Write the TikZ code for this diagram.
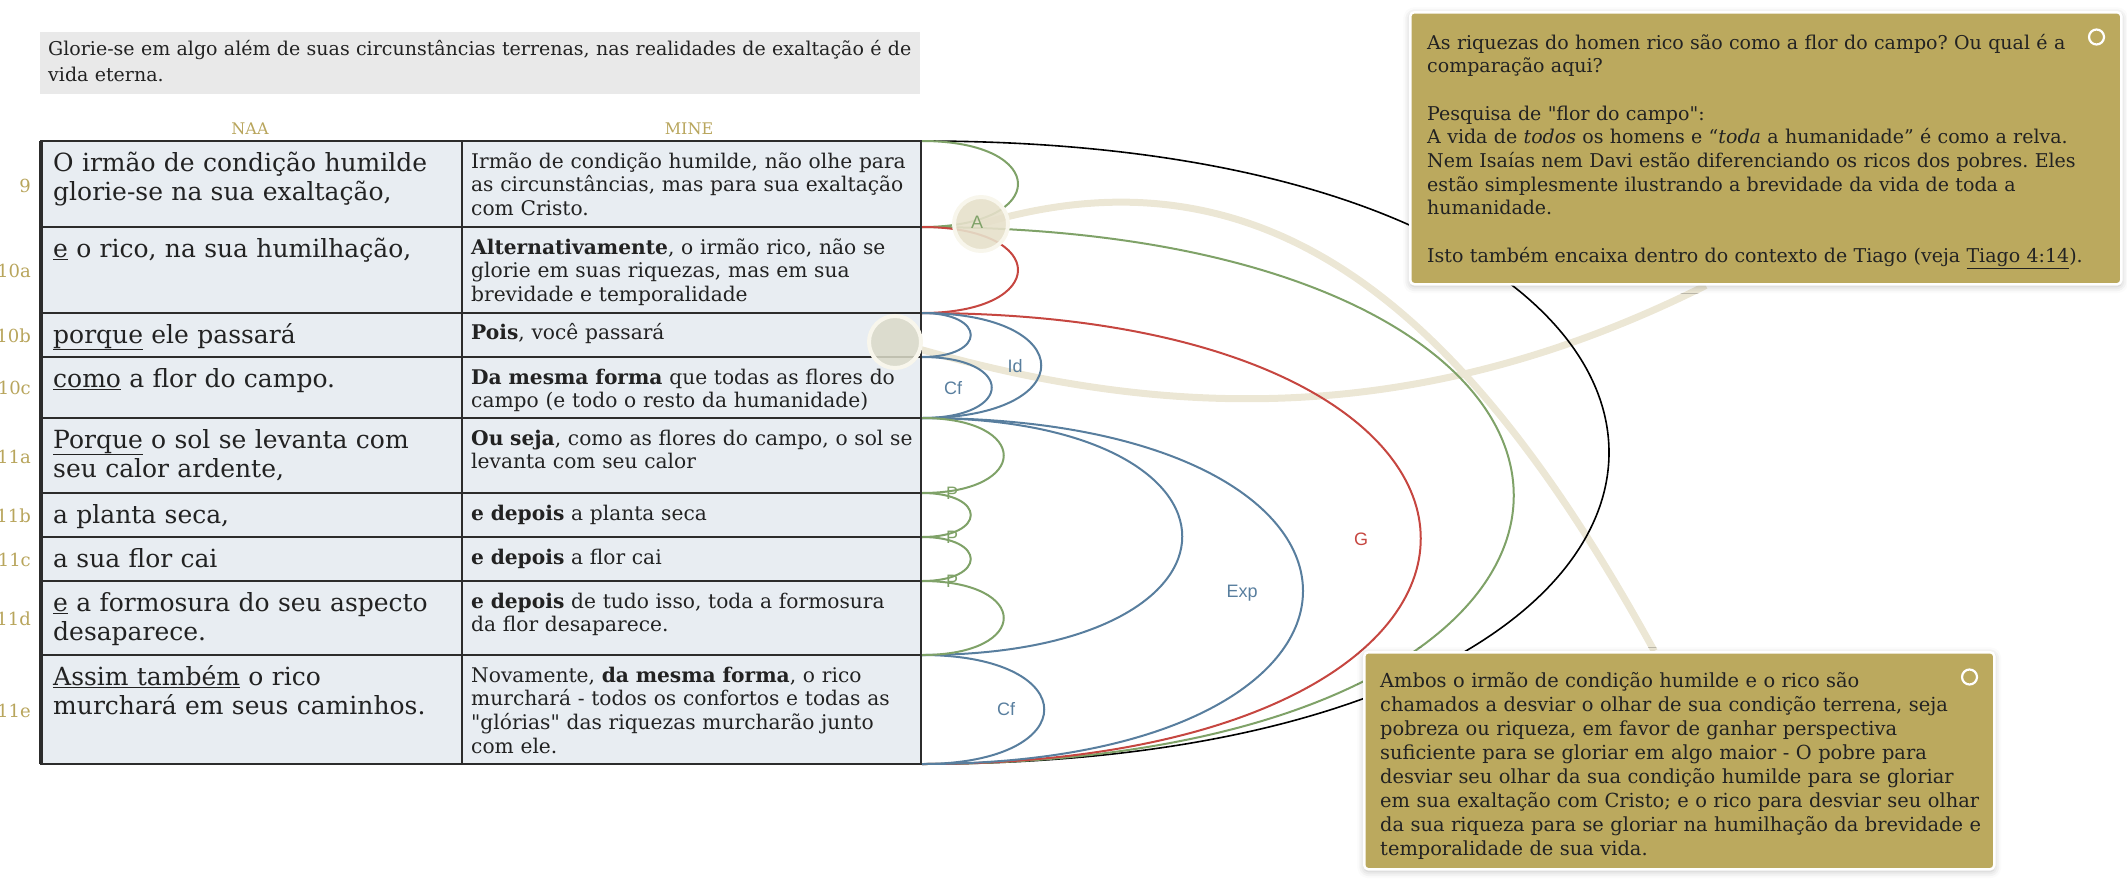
\documentclass[tikz,border=0pt]{standalone}
\usepackage{fontspec}
\setmainfont{DejaVu Serif}[Ligatures=TeXOff]
\newfontfamily\arcsans{Liberation Sans}
\usepackage{tikz}
\usetikzlibrary{calc,positioning,shadows.blur}
\definecolor{arcblue}{RGB}{88,126,158}
\definecolor{arcgreen}{RGB}{127,162,104}
\definecolor{arcred}{RGB}{198,70,64}
\definecolor{versegold}{RGB}{184,165,92}
\definecolor{notegold}{RGB}{187,169,94}
\definecolor{cellfill}{RGB}{232,237,242}
\definecolor{headfill}{RGB}{233,233,233}
\definecolor{tabline}{RGB}{44,44,44}
\definecolor{inktext}{RGB}{34,34,34}
\definecolor{tanline}{RGB}{236,231,213}
\definecolor{tandot}{RGB}{230,224,202}
\definecolor{greydot}{RGB}{219,218,200}
\definecolor{dotrim}{RGB}{248,246,236}
\pgfdeclarelayer{linklayer}
\pgfsetlayers{linklayer,main}
\frenchspacing

\begin{document}
\begin{tikzpicture}[x=1pt,y=-1pt,
  naacell/.style={anchor=base west,inner sep=0pt,align=left,text width=600pt,text=inktext,font=\fontsize{25}{29.5}\selectfont},
  minecell/.style={anchor=base west,inner sep=0pt,align=left,text width=600pt,text=inktext,font=\fontsize{20.2}{23.7}\selectfont},
  headtext/.style={anchor=base west,inner sep=0pt,align=left,text width=900pt,text=inktext,font=\fontsize{19}{26.5}\selectfont},
  versenum/.style={anchor=east,inner sep=0pt,text=versegold,font=\fontsize{18}{18}\selectfont},
  colhead/.style={inner sep=0pt,text=versegold,font=\fontsize{16}{16}\selectfont},
  arcline/.style={line width=2pt},
  arclabel/.style={inner sep=0pt,font=\arcsans\fontsize{18}{18}\selectfont},
  notebox/.style={draw=white,line width=2.5pt,fill=notegold,rounded corners=4pt,inner sep=0pt,anchor=north west,
    blur shadow={shadow xshift=0pt,shadow yshift=-2pt,shadow blur radius=7pt,shadow opacity=25}},
  notetext/.style={anchor=base west,inner sep=0pt,align=left,text width=700pt,text=inktext},
  notering/.style={circle,draw=white,line width=2.2pt,minimum size=15pt,inner sep=0pt},
  tanlink/.style={line width=7pt,tanline},
  hilite/.style={circle,draw=dotrim,line width=4pt,inner sep=0pt},
]
  \useasboundingbox (0,0) rectangle (2127,878); % 画像の大きさ

  % 上の説明の箱
  \fill[headfill] (40,32) rectangle (920,94);
  \node[headtext] (head) at (48,55) {Glorie-se em algo além de suas circunstâncias terrenas, nas realidades de exaltação é de\\vida eterna.};

  % 列の見出し
  \node[colhead] (naa) at (250,129) {NAA};
  \node[colhead] (mine) at (689,129) {MINE};

  % 表
  \fill[cellfill] (41,141) rectangle (921,764);
  \draw[tabline,line width=2.2pt] (41,141) rectangle (921,764); % 外枠
  \draw[tabline,line width=3.5pt] (41,141) -- (41,764); % 左端の太い線
  \draw[tabline,line width=2.2pt] (462,141) -- (462,764); % 列の区切り
  \draw[tabline,line width=2.2pt] (41,227) -- (921,227);
  \draw[tabline,line width=2.2pt] (41,313) -- (921,313);
  \draw[tabline,line width=2.2pt] (41,357) -- (921,357);
  \draw[tabline,line width=2.2pt] (41,418) -- (921,418);
  \draw[tabline,line width=2.2pt] (41,493) -- (921,493);
  \draw[tabline,line width=2.2pt] (41,537) -- (921,537);
  \draw[tabline,line width=2.2pt] (41,581) -- (921,581);
  \draw[tabline,line width=2.2pt] (41,655) -- (921,655);

  % 節の番号
  \node[versenum] (v9) at (31,186) {9};
  \node[versenum] (v10a) at (31,271) {10a};
  \node[versenum] (v10b) at (31,336) {10b};
  \node[versenum] (v10c) at (31,388) {10c};
  \node[versenum] (v11a) at (31,457) {11a};
  \node[versenum] (v11b) at (31,516) {11b};
  \node[versenum] (v11c) at (31,560) {11c};
  \node[versenum] (v11d) at (31,619) {11d};
  \node[versenum] (v11e) at (31,711) {11e};

  % 左の列（NAA）
  \node[naacell] (naa9) at (53,171) {O irmão de condição humilde\\glorie-se na sua exaltação,};
  \node[naacell] (naa10a) at (53,257) {\underline{e} o rico, na sua humilhação,};
  \node[naacell] (naa10b) at (53,343) {\underline{porque} ele passará};
  \node[naacell] (naa10c) at (53,387) {\underline{como} a flor do campo.};
  \node[naacell] (naa11a) at (53,448) {\underline{Porque} o sol se levanta com\\seu calor ardente,};
  \node[naacell] (naa11b) at (53,523) {a planta seca,};
  \node[naacell] (naa11c) at (53,567) {a sua flor cai};
  \node[naacell] (naa11d) at (53,611) {\underline{e} a formosura do seu aspecto\\desaparece.};
  \node[naacell] (naa11e) at (53,685) {\underline{Assim também} o rico\\murchará em seus caminhos.};

  % 右の列（MINE）
  \node[minecell] (mine9) at (471,168) {Irmão de condição humilde, não olhe para\\as circunstâncias, mas para sua exaltação\\com Cristo.};
  \node[minecell] (mine10a) at (471,254) {\textbf{Alternativamente}, o irmão rico, não se\\glorie em suas riquezas, mas em sua\\brevidade e temporalidade};
  \node[minecell] (mine10b) at (471,339) {\textbf{Pois}, você passará};
  \node[minecell] (mine10c) at (471,384) {\textbf{Da mesma forma} que todas as flores do\\campo (e todo o resto da humanidade)};
  \node[minecell] (mine11a) at (471,445) {\textbf{Ou seja}, como as flores do campo, o sol se\\levanta com seu calor};
  \node[minecell] (mine11b) at (471,520) {\textbf{e depois} a planta seca};
  \node[minecell] (mine11c) at (471,564) {\textbf{e depois} a flor cai};
  \node[minecell] (mine11d) at (471,608) {\textbf{e depois} de tudo isso, toda a formosura\\da flor desaparece.};
  \node[minecell] (mine11e) at (471,682) {Novamente, \textbf{da mesma forma}, o rico\\murchará - todos os confortos e todas as\\"glórias" das riquezas murcharão junto\\com ele.};

  % 弧の端点（表の右端）
  \coordinate (r0) at (922,141);
  \coordinate (r1) at (922,227);
  \coordinate (r2) at (922,313);
  \coordinate (r3) at (922,357);
  \coordinate (r4) at (922,418);
  \coordinate (r5) at (922,493);
  \coordinate (r6) at (922,537);
  \coordinate (r7) at (922,581);
  \coordinate (r8) at (922,655);
  \coordinate (r9) at (922,764);

  % 弧
  \draw[line width=1.6pt,black] (r0) .. controls +(916,0) and +(916,0) .. (r9); % 全体
  \draw[arcline,arcgreen] (r0) .. controls +(128,0) and +(128,0) .. (r1); % 9節
  \draw[arcline,arcgreen] (r1) .. controls +(789,0) and +(789,0) .. (r9); % 10a-11e
  \draw[arcline,arcred] (r1) .. controls +(128,0) and +(128,0) .. (r2); % 10a
  \draw[arcline,arcred] (r2) .. controls +(665,0) and +(665,0) .. (r9); % 10b-11e
  \draw[arcline,arcblue] (r2) .. controls +(65,0) and +(65,0) .. (r3); % 10b
  \draw[arcline,arcblue] (r3) .. controls +(93,0) and +(93,0) .. (r4); % 10c
  \draw[arcline,arcblue] (r2) .. controls +(159,0) and +(159,0) .. (r4); % 10b-10c
  \draw[arcline,arcblue] (r4) .. controls +(347,0) and +(347,0) .. (r8); % 11a-11d
  \draw[arcline,arcblue] (r4) .. controls +(508,0) and +(508,0) .. (r9); % 11a-11e
  \draw[arcline,arcblue] (r8) .. controls +(163,0) and +(163,0) .. (r9); % 11e
  \draw[arcline,arcgreen] (r4) .. controls +(109,0) and +(109,0) .. (r5); % 11a
  \draw[arcline,arcgreen] (r5) .. controls +(65,0) and +(65,0) .. (r6); % 11b
  \draw[arcline,arcgreen] (r6) .. controls +(65,0) and +(65,0) .. (r7); % 11c
  \draw[arcline,arcgreen] (r7) .. controls +(109,0) and +(109,0) .. (r8); % 11d

  % 強調の丸
  \node[hilite,fill=tandot,minimum size=54pt,fill opacity=0.9] (dotA) at (981,224) {};
  \node[hilite,fill=greydot,minimum size=52pt,fill opacity=0.85] (dotB) at (895,342) {};

  % 弧のラベル
  \node[arclabel,text=arcgreen] (lblA) at (977,222) {A};
  \node[arclabel,text=arcblue] (lblId) at (1015,366) {Id};
  \node[arclabel,text=arcblue] (lblCf) at (953,388) {Cf};
  \node[arclabel,text=arcred] (lblG) at (1361,539) {G};
  \node[arclabel,text=arcblue] (lblExp) at (1242,593) {Exp};
  \node[arclabel,text=arcblue] (lblCfb) at (1006,709) {Cf};
  \node[arclabel,text=arcgreen] (lblPa) at (952,493) {P};
  \node[arclabel,text=arcgreen] (lblPb) at (952,537) {P};
  \node[arclabel,text=arcgreen] (lblPc) at (952,581) {P};

  % メモ
  \node[notebox,minimum width=711pt,minimum height=272pt] (note1) at (1409,11) {};
  \node[notetext,font=\fontsize{19}{23.7}\selectfont] (note1txt) at ($(note1.north west)+(18,38)$) {As riquezas do homen rico são como a flor do campo? Ou qual é a\\comparação aqui?\\[23.7pt]Pesquisa de "flor do campo":\\A vida de \textit{todos} os homens e “\textit{toda} a humanidade” é como a relva.\\Nem Isaías nem Davi estão diferenciando os ricos dos pobres. Eles\\estão simplesmente ilustrando a brevidade da vida de toda a\\humanidade.\\[23.7pt]Isto também encaixa dentro do contexto de Tiago (veja \underline{Tiago 4:14}).};
  \node[notering] (ring1) at ($(note1.north east)+(-26,26)$) {};
  \node[notebox,minimum width=630pt,minimum height=217pt] (note2) at (1363,651) {};
  \node[notetext,font=\fontsize{19.4}{24}\selectfont] (note2txt) at ($(note2.north west)+(17,36)$) {Ambos o irmão de condição humilde e o rico são\\chamados a desviar o olhar de sua condição terrena, seja\\pobreza ou riqueza, em favor de ganhar perspectiva\\suficiente para se gloriar em algo maior - O pobre para\\desviar seu olhar da sua condição humilde para se gloriar\\em sua exaltação com Cristo; e o rico para desviar seu olhar\\da sua riqueza para se gloriar na humilhação da brevidade e\\temporalidade de sua vida.};
  \node[notering] (ring2) at ($(note2.north east)+(-26,26)$) {};

  % 丸とメモを結ぶ線
  \begin{pgfonlayer}{linklayer}
  \draw[tanlink] (dotA.center) .. controls +(300,-90) and +(-176,-320) .. ($(note2.north)+(-25,0)$);
  \draw[tanlink] (dotB.center) .. controls +(250,75) and +(-300,150) .. ($(note1.south)+(-60,0)$);
  \end{pgfonlayer}
\end{tikzpicture}
\end{document}
